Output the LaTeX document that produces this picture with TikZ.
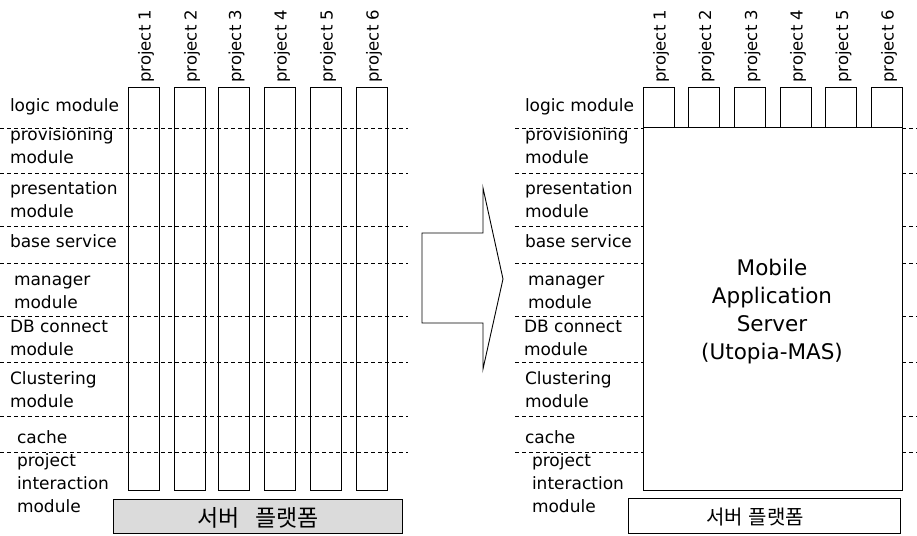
\documentclass[tikz,border=0pt]{standalone}
\usepackage{fontspec}
\setmainfont{DejaVu Sans}
\newfontfamily\krfont{Noto Sans CJK KR}
\begin{document}
\begin{tikzpicture}[x=1pt,y=-1pt,
  lbl/.style={font=\fontsize{17}{23}\selectfont, anchor=base west, align=left, inner sep=0pt, outer sep=0pt},
  projlbl/.style={font=\fontsize{16.5}{20}\selectfont, rotate=90, anchor=west, inner sep=0pt},
  colbox/.style={draw, line width=0.9pt, inner sep=0pt, outer sep=0pt, minimum width=31pt},
  sepline/.style={dash pattern=on 4pt off 3pt, line width=0.7pt},
  platbox/.style={draw, line width=0.9pt, inner sep=0pt, outer sep=0pt, anchor=north west},
  kr/.style={font=\krfont\fontsize{23}{26}\selectfont, inner sep=0pt},
  krs/.style={font=\krfont\fontsize{20}{24}\selectfont, inner sep=0pt},
  big/.style={font=\fontsize{21.5}{28}\selectfont, align=center, anchor=base, inner sep=0pt}]
\useasboundingbox (0,0) rectangle (917,535);
\fill[white] (0,0) rectangle (917,535);

% dashed separators
\foreach \y in {128,173,226,263,316,362,416,452}{
  \draw[sepline] (0,\y) -- (408,\y);
  \draw[sepline] (515,\y) -- (643,\y);
  \draw[sepline] (902,\y) -- (917,\y);
}

% left columns
\foreach \i/\x in {1/143.5,2/189.5,3/234,4/279.5,5/325.5,6/371.5}{
  \node[colbox, minimum height=403pt] (L\i) at (\x,288.5) {};
  \node[projlbl] (LP\i) at (\x+2.5,83) {project \i};
}

% right columns
\foreach \i/\x in {1/658.5,2/704,3/750,4/795.5,5/841,6/886.5}{
  \node[colbox, minimum height=40pt] (R\i) at (\x,107) {};
  \node[projlbl] (RP\i) at (\x+2.5,83) {project \i};
}
\node[colbox, minimum width=259pt, minimum height=363pt] (mas) at (772.5,308.5) {};
\node[big] (mastext) at (772,359) {Mobile\\Application\\Server\\(Utopia-MAS)};

% left labels (anchor = baseline of last line)
\node[lbl] (l1) at (10,111) {logic module};
\node[lbl] (l2) at (10,163) {provisioning\\module};
\node[lbl] (l3) at (10,217) {presentation\\module};
\node[lbl] (l4) at (10,247) {base service};
\node[lbl] (l5) at (14,308) {manager\\module};
\node[lbl] (l6) at (10,355) {DB connect\\module};
\node[lbl] (l7) at (10,407) {Clustering\\module};
\node[lbl] (l8) at (17,443) {cache};
\node[lbl] (l9) at (17,512) {project\\interaction\\module};

% right labels
\node[lbl] (r1) at (525,111) {logic module};
\node[lbl] (r2) at (525,163) {provisioning\\module};
\node[lbl] (r3) at (525,217) {presentation\\module};
\node[lbl] (r4) at (525,247) {base service};
\node[lbl] (r5) at (528,308) {manager\\module};
\node[lbl] (r6) at (524,355) {DB connect\\module};
\node[lbl] (r7) at (525,407) {Clustering\\module};
\node[lbl] (r8) at (525,443) {cache};
\node[lbl] (r9) at (532,512) {project\\interaction\\module};

% platforms
\node[platbox, fill=black!14, minimum width=289pt, minimum height=34pt] (platL) at (113,499) {};
\node[kr] (platLt) at (258,518) {서버\hspace{0.7em}플랫폼};
\node[platbox, fill=white, minimum width=272pt, minimum height=35pt] (platR) at (628,498) {};
\node[krs] (platRt) at (755,517) {서버\hspace{0.3em}플랫폼};

% big arrow
\draw[line width=0.9pt, fill=white] (422,233) -- (483,233) -- (483,188) -- (503,279) -- (483,369) -- (483,323) -- (422,323) -- cycle;
\end{tikzpicture}
\end{document}
